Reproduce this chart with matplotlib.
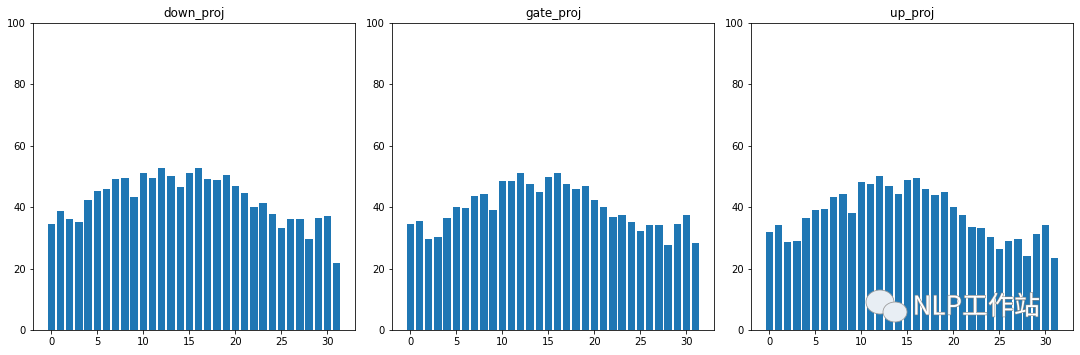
import numpy as np
import matplotlib.pyplot as plt
import matplotlib.patheffects as pe
from matplotlib.patches import Ellipse

layers = np.arange(32)

titles = ['down_proj', 'gate_proj', 'up_proj']

down_proj = [34.6, 38.7, 36.3, 35.1, 42.2, 45.2, 46.0, 49.1, 49.6, 43.4,
             51.1, 49.6, 52.7, 50.1, 46.5, 51.1, 52.7, 49.1, 48.9, 50.5,
             46.9, 44.6, 40.2, 41.3, 37.9, 33.1, 36.3, 36.3, 29.8, 36.5,
             37.1, 21.9]
gate_proj = [34.6, 35.6, 29.8, 30.3, 36.6, 40.2, 39.9, 43.8, 44.4, 39.1,
             48.5, 48.5, 51.1, 47.5, 45.1, 49.8, 51.1, 47.5, 46.0, 46.9,
             42.4, 40.2, 36.9, 37.3, 35.1, 32.2, 34.3, 34.3, 27.8, 34.6,
             37.6, 28.4]
up_proj = [31.8, 34.3, 28.6, 29.1, 36.6, 39.1, 39.3, 43.4, 44.2, 38.2,
           48.2, 47.6, 50.1, 46.9, 44.2, 48.7, 49.5, 45.8, 44.0, 45.1,
           40.0, 37.3, 33.4, 33.1, 30.3, 26.5, 29.1, 29.5, 24.1, 31.4,
           34.3, 23.6]

series = [down_proj, gate_proj, up_proj]

fig = plt.figure(figsize=(15, 355 / 72), dpi=72)
lefts = [33, 392, 751]
for i in range(3):
    ax = fig.add_axes([lefts[i] / 1080, 25 / 355, 322 / 1080, 307 / 355])
    ax.bar(layers, series[i], color='#1f77b4')
    ax.set_ylim(0, 100)
    ax.set_title(titles[i])

# watermark: rough wechat icon + text
for (cx, cy, w, h) in [(880, 302, 28, 24), (895, 312, 24, 20)]:
    fig.patches.append(Ellipse((cx / 1080, 1 - cy / 355), w / 1080, h / 355,
                               transform=fig.transFigure, facecolor='#e8eef4',
                               edgecolor='#999999', lw=0.8, zorder=5))
fig.text(0.845, 0.135, 'NLP工作站', fontsize=26, color='white', weight='light',
         family=['Noto Sans CJK SC', 'DejaVu Sans'], ha='left', va='center',
         path_effects=[pe.withStroke(linewidth=1.2, foreground='#888888')])

fig.savefig('out.png', dpi=72)
